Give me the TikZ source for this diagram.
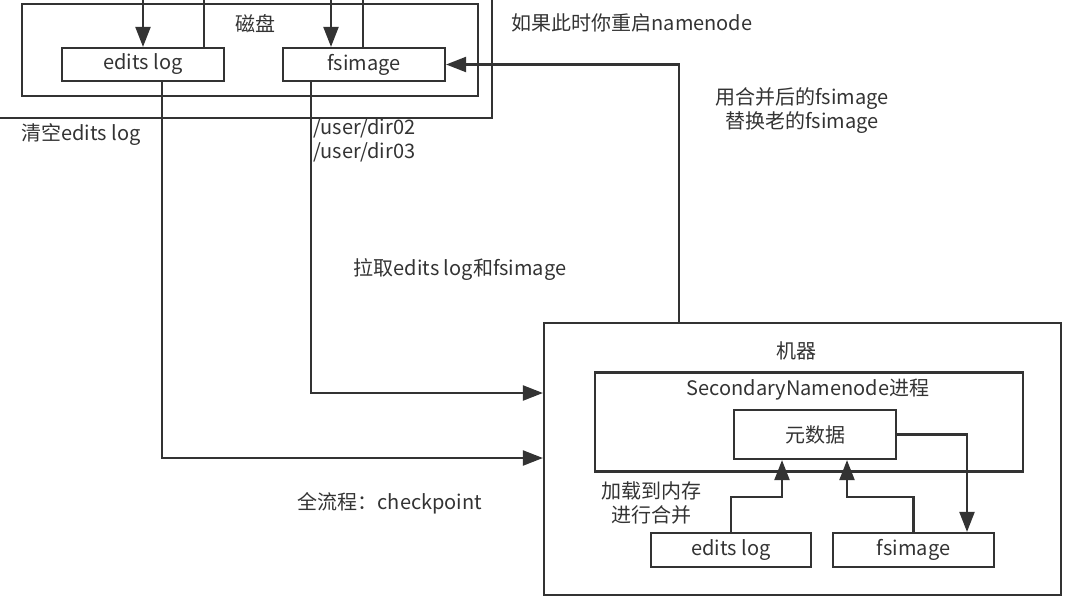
\documentclass[tikz,border=0pt]{standalone}
\usepackage{fontspec}
\setmainfont{Noto Sans CJK SC}
\usetikzlibrary{arrows.meta}
\definecolor{ink}{HTML}{333333}

\begin{document}
\begin{tikzpicture}[x=1pt,y=-1pt,
  box/.style={draw=ink,line width=2.2pt,inner sep=0pt},
  lbl/.style={text=ink,inner sep=0pt,align=center,font=\fontsize{20}{24}\selectfont},
  wire/.style={draw=ink,line width=2.2pt},
  arr/.style={wire,-{Triangle[length=20pt,width=15pt]}}]
\useasboundingbox (0,0) rectangle (1073,606);

\node[box,minimum width=512pt,minimum height=140pt] (host) at (236,48) {};
\node[box,minimum width=456pt,minimum height=92pt] (disk) at (250,50) {};
\node[lbl] (diskL) at (255,24) {磁盘};
\node[box,lbl,minimum width=162pt,minimum height=33pt] (editsD) at (143,64.5) {edits log};
\node[box,lbl,minimum width=162pt,minimum height=33pt] (fsD) at (364,64.5) {fsimage};

\node[box,minimum width=517pt,minimum height=272pt] (machine) at (802.5,459) {};
\node[lbl] (machL) at (796,351) {机器};
\node[box,minimum width=428pt,minimum height=99pt] (proc) at (809,422) {};
\node[lbl] (procL) at (808,390) {SecondaryNamenode进程};
\node[box,lbl,minimum width=162pt,minimum height=49pt] (meta) at (815,434.5) {元数据};
\node[box,lbl,minimum width=160pt,minimum height=34pt] (editsS) at (731,550) {edits log};
\node[box,lbl,minimum width=161pt,minimum height=34pt] (fsS) at (913.5,550) {fsimage};

\node[lbl] (restart) at (632,23) {如果此时你重启namenode};
\node[lbl] (replace) at (802,111) {用合并后的fsimage\\替换老的fsimage};
\node[lbl] (clear) at (81,135) {清空edits log};
\node[lbl,align=left,anchor=west] (dirs) at (313,140.5) {/user/dir02\\/user/dir03};
\node[lbl] (pull) at (460,270) {拉取edits log和fsimage};
\node[lbl] (ckpt) at (390,503) {全流程：checkpoint};
\node[lbl] (load) at (651,503) {加载到内存\\进行合并};

\coordinate (inE) at (143,-20);
\coordinate (outE) at (204,-20);
\coordinate (inF) at (331,-20);
\coordinate (outF) at (363,-20);
\coordinate (pullE) at (162,458);
\coordinate (pullF) at (311,393);
\coordinate (back) at (679,64.5);
\coordinate (loadE) at (782,497);
\coordinate (loadF) at (847,497);
\coordinate (save) at (967,434.5);

\draw[arr] (inE) -- (editsD.north);
\draw[wire] (editsD.north -| outE) -- (outE);
\draw[arr] (inF) -- (inF |- fsD.north);
\draw[wire] (fsD.north -| outF) -- (outF);
\draw[arr] (editsD.south -| pullE) -- (pullE) -- (pullE -| machine.west);
\draw[arr] (fsD.south -| pullF) -- (pullF) -- (pullF -| machine.west);
\draw[arr] (machine.north -| back) -- (back) -- (fsD.east);

\draw[arr] (editsS.north) |- (loadE) -- (loadE |- meta.south);
\draw[arr] (fsS.north) |- (loadF) -- (loadF |- meta.south);
\draw[arr] (meta.east) -- (save) -- (save |- fsS.north);
\end{tikzpicture}
\end{document}
